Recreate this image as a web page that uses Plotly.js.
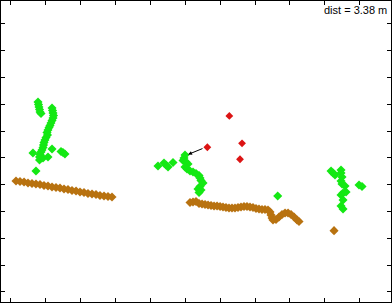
<!DOCTYPE html>
<html>
<head>
<meta charset="utf-8">
<script src="https://cdn.plot.ly/plotly-3.0.1.min.js"></script>
<style>html,body{margin:0;padding:0;background:#fff;}#chart{width:392px;height:303px;}</style>
</head>
<body>
<div id="chart"></div>
<script>
// Wall segment 1 (brown)
const wall1X = [0.76,1.33,1.91,2.48,3.05,3.62,4.20,4.77,5.34,5.92,6.49,7.06,7.64,8.21,8.78,9.36,9.93,10.50,11.07,11.65,12.22,12.79,13.37,13.94,14.51];
const wall1Y = [20.71,20.62,20.52,20.34,20.24,20.15,20.06,19.87,19.78,19.59,19.50,19.40,19.22,19.12,18.94,18.84,18.66,18.56,18.38,18.28,18.19,18.00,17.91,17.82,17.72];
// Wall segment 2 (brown)
const wall2X = [25.69,26.12,26.55,26.98,27.41,27.84,28.27,28.70,29.13,29.56,29.99,30.41,30.84,31.27,31.70,32.13,32.56,32.99,33.42,33.85,34.28,34.71,35.14,35.57,36.00,36.43,36.86,37.15,37.29,37.44,37.58,38.01,38.44,38.87,39.30,39.73,40.16,40.59,41.02,41.30,46.32];
const wall2Y = [16.70,16.79,16.88,16.51,16.42,16.32,16.23,16.14,16.04,16.04,15.95,15.86,15.76,15.67,15.67,15.67,15.76,15.86,15.95,15.95,15.86,15.76,15.58,15.49,15.39,15.39,15.30,14.93,14.37,13.81,13.43,13.53,13.99,14.46,14.74,14.74,14.46,13.99,13.43,13.15,11.44];
// Green detections
const greenX = [3.91,3.98,4.05,4.13,4.20,4.34,
  5.92,5.99,6.06,6.13,6.06,5.92,5.77,5.63,5.49,5.34,5.20,5.27,5.06,4.91,4.77,4.70,4.63,4.48,4.34,4.20,4.13,4.13,
  3.19,4.63,5.34,5.92,7.21,7.49,7.77,3.62,
  21.10,21.96,22.25,22.54,23.25,24.97,24.83,24.69,25.12,25.40,24.97,25.26,25.69,26.12,26.55,26.98,27.12,27.26,27.55,27.12,26.83,27.26,26.98,
  38.25,
  45.89,46.18,46.46,47.32,47.32,47.46,47.32,47.46,47.89,48.04,47.61,47.32,47.61,47.32,47.61,49.90,50.33];
const greenY = [35.45,34.98,34.51,34.05,33.58,33.30,
  34.33,33.86,33.40,32.93,32.46,32.00,31.53,31.06,30.69,30.22,29.76,29.29,28.82,28.36,27.89,27.43,26.96,26.49,26.12,25.65,25.19,24.63,
  25.93,25.00,25.19,26.68,26.21,26.03,25.75,22.57,
  23.51,24.07,23.69,23.32,24.16,25.56,25.00,24.53,24.25,23.88,23.32,22.95,22.57,22.39,22.11,21.74,21.27,20.80,20.34,19.68,19.22,19.03,18.56,
  17.91,
  22.57,22.20,21.83,22.76,22.20,21.46,20.71,20.15,19.78,18.66,18.47,18.10,17.16,16.04,15.49,19.96,19.68];
// Red detections
const redX = [31.32,28.17,33.14,32.85];
const redY = [32.84,27.00,27.74,24.76];
// Distance arrow (tip on green, tail on red)
const arrowTip = [25.40,25.65];
const arrowTail = [27.69,26.87];
const distLabel = 'dist = 3.38 m';

const mk = (c, s) => ({symbol:'diamond', size:s, color:c, line:{width:0}});
const traces = [
  {x:wall1X, y:wall1Y, mode:'markers', type:'scatter', marker:mk('rgb(184,114,16)', 7), hoverinfo:'none'},
  {x:wall2X, y:wall2Y, mode:'markers', type:'scatter', marker:mk('rgb(184,114,16)', 7), hoverinfo:'none'},
  {x:greenX, y:greenY, mode:'markers', type:'scatter', marker:mk('rgb(20,232,20)', 7), hoverinfo:'none'},
  {x:redX, y:redY, mode:'markers', type:'scatter', marker:mk('rgb(220,20,20)', 6), hoverinfo:'none'}
];
const axisCommon = {showgrid:false, zeroline:false, showline:true, linecolor:'#000', linewidth:1,
  mirror:'ticks', ticks:'inside', ticklen:4, tickcolor:'#000', tickwidth:1, showticklabels:false, dtick:5, tick0:0};
const layout = {
  width:392, height:303,
  margin:{l:1, r:1, t:1, b:1},
  paper_bgcolor:'#fff', plot_bgcolor:'#fff',
  showlegend:false,
  xaxis:Object.assign({range:[-1.39,54.48]}, axisCommon),
  yaxis:Object.assign({range:[-1.87,54.29]}, axisCommon),
  annotations:[
    {x:arrowTip[0], y:arrowTip[1], ax:arrowTail[0], ay:arrowTail[1], xref:'x', yref:'y', axref:'x', ayref:'y',
     text:'', showarrow:true, arrowhead:2, arrowsize:0.8, arrowwidth:1, arrowcolor:'#000', standoff:0, startstandoff:0},
    {x:1, y:1, xref:'paper', yref:'paper', xanchor:'right', yanchor:'top', xshift:-2, yshift:-1,
     text:distLabel, showarrow:false, font:{family:'Liberation Sans, Arial, sans-serif', size:11, color:'#000'}}
  ]
};
Plotly.newPlot('chart', traces, layout, {staticPlot:true, displayModeBar:false});
</script>
</body>
</html>
